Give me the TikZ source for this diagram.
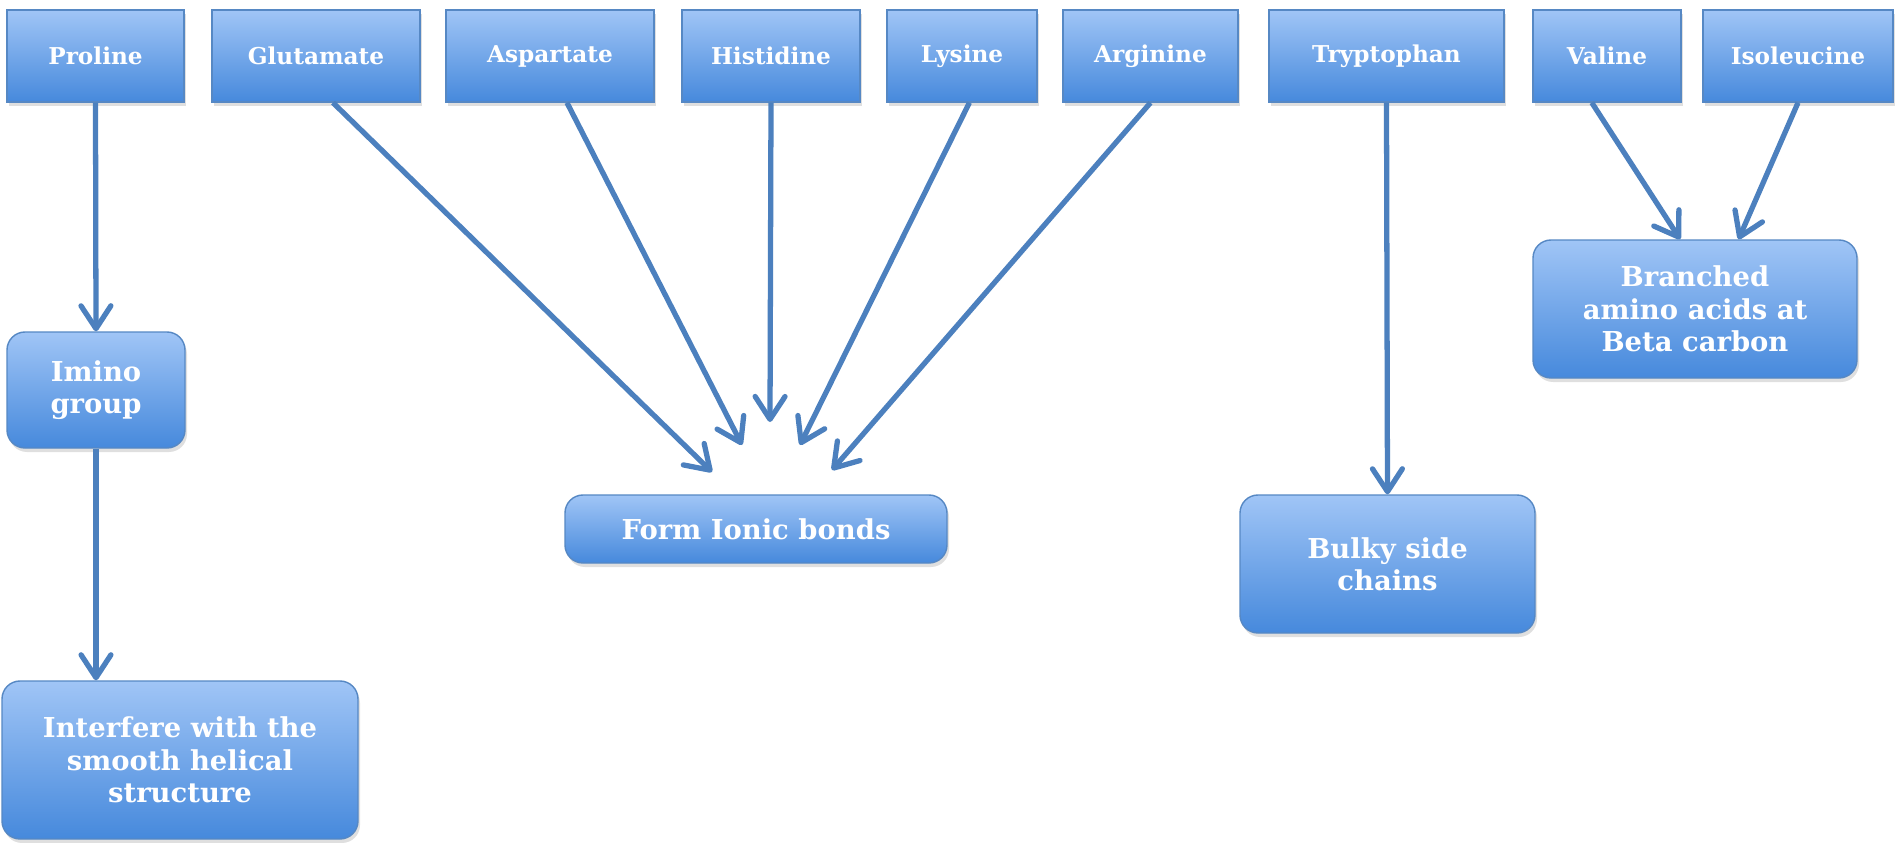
\documentclass[tikz,border=0pt]{standalone}
\usepackage{fontspec}
\setmainfont{DejaVu Serif}
\usetikzlibrary{arrows.meta,shadows}
\definecolor{boxtop}{RGB}{160,197,246}
\definecolor{boxbot}{RGB}{70,137,220}
\definecolor{boxline}{RGB}{86,136,196}
\definecolor{arrowblue}{RGB}{76,128,190}
\begin{document}
\begin{tikzpicture}[x=1cm,y=1cm,every node/.style={text=white,align=center},
  acid/.style={draw=boxline,line width=.4pt,top color=boxtop,bottom color=boxbot,
    drop shadow={opacity=.25,shadow xshift=.02,shadow yshift=-.04},
    inner sep=0pt,minimum height=.92cm,font=\fontsize{6.6}{8}\selectfont\bfseries},
  effect/.style={acid,rounded corners=.18cm,font=\fontsize{7.8}{9.2}\selectfont\bfseries},
  link/.style={draw=arrowblue,line width=1.5pt,-{Straight Barb[length=6.5pt,width=8.5pt,line width=1.5pt,round]}}]
\useasboundingbox (0,0) rectangle (18.95,8.42);
\fill[white] (0,0) rectangle (18.95,8.42);
\node[acid,minimum width=1.77cm] (pro) at (.955,7.86) {Proline};
\node[acid,minimum width=2.08cm] (glu) at (3.16,7.86) {Glutamate};
\node[acid,minimum width=2.08cm] (asp) at (5.50,7.86) {Aspartate};
\node[acid,minimum width=1.78cm] (his) at (7.71,7.86) {Histidine};
\node[acid,minimum width=1.50cm] (lys) at (9.62,7.86) {Lysine};
\node[acid,minimum width=1.75cm] (arg) at (11.505,7.86) {Arginine};
\node[acid,minimum width=2.35cm] (try) at (13.865,7.86) {Tryptophan};
\node[acid,minimum width=1.48cm] (val) at (16.07,7.86) {Valine};
\node[acid,minimum width=1.90cm] (ile) at (17.98,7.86) {Isoleucine};
\node[effect,minimum width=1.78cm,minimum height=1.16cm] (imino) at (.96,4.52) {Imino\\group};
\node[effect,minimum width=3.56cm,minimum height=1.58cm] (helix) at (1.80,.82) {Interfere with the\\smooth helical\\structure};
\node[effect,minimum width=3.82cm,minimum height=.68cm] (ionic) at (7.56,3.13) {Form Ionic bonds};
\node[effect,minimum width=2.95cm,minimum height=1.38cm] (bulky) at (13.875,2.78) {Bulky side\\chains};
\node[effect,minimum width=3.24cm,minimum height=1.38cm] (branch) at (16.95,5.33) {Branched\\amino acids at\\Beta carbon};
\coordinate (tip1) at (7.12,3.70);
\coordinate (tip2) at (7.42,3.97);
\coordinate (tip3) at (7.70,4.20);
\coordinate (tip4) at (8.00,3.97);
\coordinate (tip5) at (8.32,3.72);
\draw[link] (pro.south) -- (imino.north);
\draw[link] (imino.south) -- (imino.south |- helix.north);
\draw[link] (glu.-70) -- (tip1);
\draw[link] (asp.-70) -- (tip2);
\draw[link] (his.south) -- (tip3);
\draw[link] (lys.-81) -- (tip4);
\draw[link] (arg.south) -- (tip5);
\draw[link] (try.south) -- (bulky.north);
\draw[link] (val.-108) -- (branch.102);
\draw[link] (ile.south) -- (branch.58);
\end{tikzpicture}
\end{document}
